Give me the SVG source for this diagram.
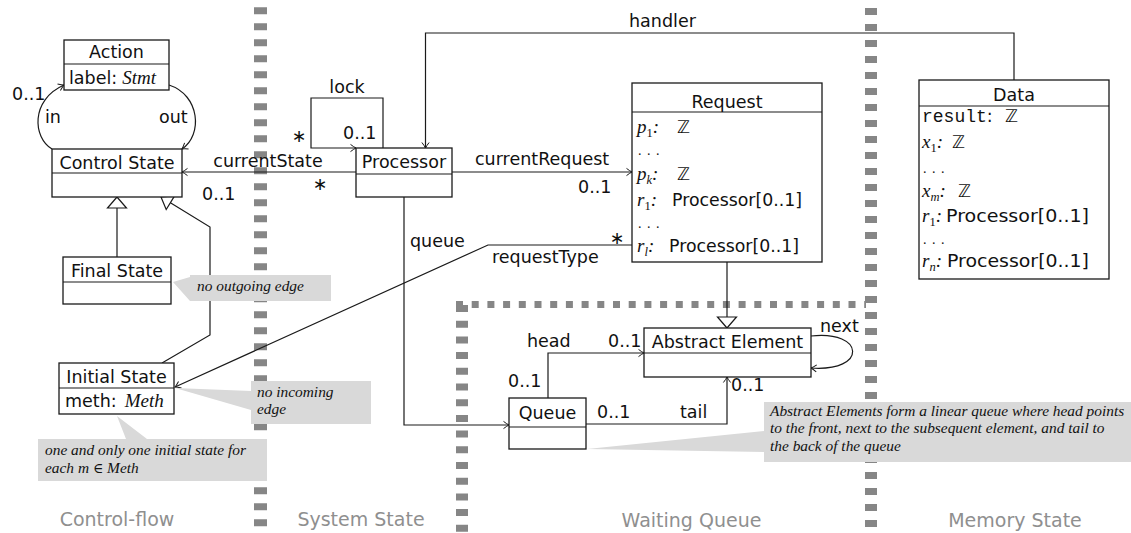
<svg xmlns="http://www.w3.org/2000/svg" width="1131" height="533" viewBox="0 0 1131 533">
<defs>
<style>
.box{fill:#fff;stroke:#1a1a1a;stroke-width:1.3}
.dv{fill:none;stroke:#1a1a1a;stroke-width:1.2}
.t{font-family:"DejaVu Sans",sans-serif;font-size:17.5px;fill:#111}
.c{text-anchor:middle}
.mi{font-family:"Liberation Serif",serif;font-style:italic;font-size:19px;fill:#111}
.rm{font-family:"Liberation Serif",serif;font-size:19px;fill:#111}
.dots{font-family:"Liberation Serif",serif;font-size:14px;letter-spacing:1px;fill:#111}
.sub{font-size:12.5px}
.tt{font-family:"Liberation Mono",monospace;font-size:18px}
.edge{fill:none;stroke:#1a1a1a;stroke-width:1.2}
.gen{fill:#fff;stroke:#1a1a1a;stroke-width:1.2}
.note{fill:#d9d9d9}
.nt{font-family:"Liberation Serif",serif;font-style:italic;font-size:15.4px;fill:#111}
.reg{font-family:"DejaVu Sans",sans-serif;font-size:19px;fill:#8f8f8f;text-anchor:middle}
.dash{fill:none;stroke:#868686}
</style>
<marker id="arr" viewBox="-7 -5 8 10" refX="0" refY="0" markerWidth="8" markerHeight="10" markerUnits="userSpaceOnUse" orient="auto">
<path d="M-5.5,-3.6 Q-2,-0.9 0,0 Q-2,0.9 -5.5,3.6" fill="none" stroke="#1a1a1a" stroke-width="1"/>
</marker>
</defs>
<rect width="1131" height="533" fill="#fff"/>

<g id="regions">
<path class="dash" d="M260.5 7.3 V531" stroke-width="13" stroke-dasharray="7 9"/>
<path class="dash" d="M871 8 V531" stroke-width="12" stroke-dasharray="7 9"/>
<path class="dash" d="M462 305 V533" stroke-width="12" stroke-dasharray="7 8.7"/>
<path class="dash" d="M456 304.5 H866" stroke-width="7" stroke-dasharray="7 8.7"/>
<text class="reg" x="117" y="526">Control-flow</text>
<text class="reg" x="361" y="526">System State</text>
<text class="reg" x="691.5" y="527">Waiting Queue</text>
<text class="reg" x="1015" y="527">Memory State</text>
</g>

<g id="connectors">
<path class="edge" d="M52 149 C33 138 30 100 64 85" marker-end="url(#arr)"/>
<path class="edge" d="M169 85 C200 95 203 135 182 149" marker-end="url(#arr)"/>
<path class="edge" d="M117 257 V208"/>
<path class="gen" d="M117 197 L107.5 208 L126.5 208 Z"/>
<path class="edge" d="M162 363 L210 335 V227 L170.4 202.7"/>
<path class="gen" d="M161 197 L174.6 195.9 L166.2 209.5 Z"/>
<path class="edge" d="M383 148 V98 H311 V148 H356" marker-end="url(#arr)"/>
<path class="edge" d="M356 172 H182" marker-end="url(#arr)"/>
<path class="edge" d="M452 172 H632" marker-end="url(#arr)"/>
<path class="edge" d="M1014 80 V33 H425.5 V148" marker-end="url(#arr)"/>
<path class="edge" d="M404 197 V425 H509" marker-end="url(#arr)"/>
<path class="edge" d="M632 245 H488 L175 387" marker-end="url(#arr)"/>
<path class="edge" d="M727 262 V317"/>
<path class="gen" d="M727 328 L717.5 317 L736.5 317 Z"/>
<path class="edge" d="M548 398 V353 H644" marker-end="url(#arr)"/>
<path class="edge" d="M586 424 H727 V377" marker-end="url(#arr)"/>
<path class="edge" d="M811 336 C865 330 868 372 811 368" marker-end="url(#arr)"/>
<text class="t" x="12" y="100">0..1</text>
<text class="t" x="45" y="123">in</text>
<text class="t" x="159" y="123">out</text>
<text class="t" x="347" y="93" text-anchor="middle">lock</text>
<text class="t" x="299" y="142" text-anchor="middle">∗</text>
<text class="t" x="343" y="139">0..1</text>
<text class="t" x="268" y="167" text-anchor="middle">currentState</text>
<text class="t" x="320" y="190" text-anchor="middle">∗</text>
<text class="t" x="202" y="200">0..1</text>
<text class="t" x="475" y="165">currentRequest</text>
<text class="t" x="578" y="193">0..1</text>
<text class="t" x="629" y="27">handler</text>
<text class="t" x="410" y="247">queue</text>
<text class="t" x="492" y="263">requestType</text>
<text class="t" x="617" y="244" text-anchor="middle">∗</text>
<text class="t" x="527" y="347">head</text>
<text class="t" x="608" y="347">0..1</text>
<text class="t" x="508" y="387">0..1</text>
<text class="t" x="597" y="418">0..1</text>
<text class="t" x="680" y="418">tail</text>
<text class="t" x="731" y="391">0..1</text>
<text class="t" x="820" y="332">next</text>
</g>

<g id="action">
<rect class="box" x="64" y="40" width="105" height="50"/>
<path class="dv" d="M64 64 H169"/>
<text class="t c" x="116.5" y="58">Action</text>
<text class="t" x="69" y="84">label:<tspan class="mi" dx="5">Stmt</tspan></text>
</g>

<g id="control-state">
<rect class="box" x="52" y="149" width="130" height="48"/>
<path class="dv" d="M52 173 H182"/>
<text class="t c" x="117" y="169">Control State</text>
</g>

<g id="final-state">
<rect class="box" x="63" y="257" width="108" height="47"/>
<path class="dv" d="M63 282 H171"/>
<text class="t c" x="117" y="277">Final State</text>
</g>

<g id="initial-state">
<rect class="box" x="59" y="363" width="115" height="51"/>
<path class="dv" d="M59 388 H174"/>
<text class="t c" x="116.5" y="383">Initial State</text>
<text class="t" x="65" y="407">meth:<tspan class="mi" dx="8">Meth</tspan></text>
</g>

<g id="processor">
<rect class="box" x="356" y="148" width="96" height="49"/>
<path class="dv" d="M356 174 H452"/>
<text class="t c" x="404" y="168">Processor</text>
</g>

<g id="request">
<rect class="box" x="632" y="83" width="190" height="179"/>
<path class="dv" d="M632 112 H822"/>
<text class="t c" x="727" y="108">Request</text>
<text class="mi" x="637" y="133">p<tspan class="sub" font-style="normal" dy="3.5">1</tspan><tspan class="rm" dy="-3.5">:</tspan></text>
<text class="t" x="677" y="133">ℤ</text>
<text class="dots" x="638" y="155">. . .</text>
<text class="mi" x="637" y="180">p<tspan class="sub" dy="3.5">k</tspan><tspan class="rm" dy="-3.5">:</tspan></text>
<text class="t" x="677" y="180">ℤ</text>
<text class="mi" x="637" y="206">r<tspan class="sub" font-style="normal" dy="3.5">1</tspan><tspan class="rm" dy="-3.5">:</tspan></text>
<text class="t" x="672" y="206" textLength="130" lengthAdjust="spacingAndGlyphs">Processor[0..1]</text>
<text class="dots" x="638" y="228">. . .</text>
<text class="mi" x="637" y="252">r<tspan class="sub" dy="3.5">l</tspan><tspan class="rm" dy="-3.5">:</tspan></text>
<text class="t" x="669" y="252" textLength="130" lengthAdjust="spacingAndGlyphs">Processor[0..1]</text>
</g>

<g id="data">
<rect class="box" x="919" y="80" width="190" height="199"/>
<path class="dv" d="M919 106 H1109"/>
<text class="t c" x="1014" y="101">Data</text>
<text class="t" x="922" y="122"><tspan class="tt">result</tspan>:</text>
<text class="t" x="1005" y="122">ℤ</text>
<text class="mi" x="922" y="148">x<tspan class="sub" font-style="normal" dy="3.5">1</tspan><tspan class="rm" dy="-3.5">:</tspan></text>
<text class="t" x="952" y="148">ℤ</text>
<text class="dots" x="923" y="173">. . .</text>
<text class="mi" x="922" y="197">x<tspan class="sub" dy="3.5">m</tspan><tspan class="rm" dy="-3.5">:</tspan></text>
<text class="t" x="958" y="197">ℤ</text>
<text class="mi" x="922" y="222">r<tspan class="sub" font-style="normal" dy="3.5">1</tspan><tspan class="rm" dy="-3.5">:</tspan></text>
<text class="t" x="946" y="222" textLength="143" lengthAdjust="spacingAndGlyphs">Processor[0..1]</text>
<text class="dots" x="923" y="244">. . .</text>
<text class="mi" x="922" y="267">r<tspan class="sub" dy="3.5">n</tspan><tspan class="rm" dy="-3.5">:</tspan></text>
<text class="t" x="947" y="267" textLength="142" lengthAdjust="spacingAndGlyphs">Processor[0..1]</text>
</g>

<g id="abstract-element">
<rect class="box" x="644" y="328" width="167" height="49"/>
<path class="dv" d="M644 353 H811"/>
<text class="t c" x="727.5" y="348">Abstract Element</text>
</g>

<g id="queue">
<rect class="box" x="509" y="398" width="77" height="51"/>
<path class="dv" d="M509 427 H586"/>
<text class="t c" x="547.5" y="419">Queue</text>
</g>

<g id="notes">
<path class="note" d="M173 282 L190 277 V275 H331 V301 H190 Z"/>
<text class="nt" x="197" y="291">no outgoing edge</text>
<path class="note" d="M175 388 L251 391 V381 H371 V424 H251 V410 Z"/>
<text class="nt" x="257" y="397">no incoming</text>
<text class="nt" x="257" y="414">edge</text>
<path class="note" d="M117 416 L147 439 H267 V481 H38 V439 H126 Z"/>
<text class="nt" x="45" y="455">one and only one initial state for</text>
<text class="nt" x="45" y="473">each m <tspan font-style="normal" font-family="'DejaVu Serif',serif" font-size="14px">∈</tspan> Meth</text>
<path class="note" d="M587 449 L764 431 V402 H1131 V462 H764 V452 Z"/>
<text class="nt" x="770" y="416">Abstract Elements form a linear queue where head points</text>
<text class="nt" x="770" y="433">to the front, next to the subsequent element, and tail to</text>
<text class="nt" x="770" y="451">the back of the queue</text>
</g>
</svg>
